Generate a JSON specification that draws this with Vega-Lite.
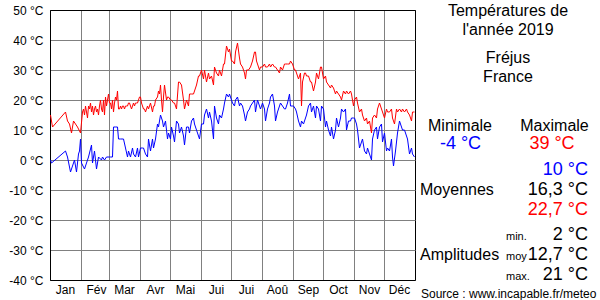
{
  "$schema": "https://vega.github.io/schema/vega-lite/v6.json",
  "autosize": "none",
  "width": 365,
  "height": 270,
  "padding": {"left": 50, "top": 10, "right": 185, "bottom": 20},
  "background": "white",
  "config": {"font": "Liberation Sans", "view": {"stroke": "black", "strokeWidth": 1}},
  "datasets": {
    "tmax": [
      {"jour":1,"t":15},{"jour":3,"t":11},{"jour":16,"t":16},{"jour":18,"t":13},{"jour":20,"t":12},{"jour":22,"t":9},{"jour":24,"t":13},{"jour":26,"t":12},{"jour":28,"t":11},{"jour":31,"t":9},
      {"jour":33,"t":16},{"jour":34,"t":17},{"jour":35,"t":15},{"jour":36,"t":18},{"jour":37,"t":16},{"jour":38,"t":14},{"jour":39,"t":18},{"jour":40,"t":17},{"jour":41,"t":19},{"jour":42,"t":16},
      {"jour":43,"t":18},{"jour":44,"t":15},{"jour":45,"t":17},{"jour":46,"t":18},{"jour":47,"t":16},{"jour":48,"t":17},{"jour":49,"t":15},{"jour":50,"t":18},{"jour":51,"t":20},{"jour":52,"t":17},
      {"jour":53,"t":16},{"jour":54,"t":20},{"jour":55,"t":15},{"jour":56,"t":21},{"jour":57,"t":18},{"jour":58,"t":20},{"jour":59,"t":22},{"jour":60,"t":19},{"jour":61,"t":19},{"jour":62,"t":17},
      {"jour":63,"t":20},{"jour":64,"t":16},{"jour":65,"t":19},{"jour":66,"t":21},{"jour":67,"t":20},{"jour":68,"t":23},{"jour":69,"t":17},{"jour":70,"t":17},{"jour":71,"t":18},{"jour":72,"t":17},
      {"jour":73,"t":18},{"jour":74,"t":18},{"jour":75,"t":17},{"jour":76,"t":18},{"jour":77,"t":18},{"jour":78,"t":18},{"jour":79,"t":19},{"jour":80,"t":19},{"jour":81,"t":18},{"jour":82,"t":17},
      {"jour":83,"t":18},{"jour":84,"t":19},{"jour":85,"t":18},{"jour":86,"t":19},{"jour":87,"t":19},{"jour":88,"t":19},{"jour":89,"t":20},{"jour":90,"t":21},{"jour":91,"t":21},{"jour":92,"t":19},
      {"jour":93,"t":18},{"jour":94,"t":17},{"jour":95,"t":17},{"jour":96,"t":16},{"jour":98,"t":18},{"jour":99,"t":17},{"jour":101,"t":19},{"jour":103,"t":16},{"jour":104,"t":18},{"jour":105,"t":18},
      {"jour":106,"t":20},{"jour":108,"t":21},{"jour":109,"t":23},{"jour":110,"t":22},{"jour":111,"t":25},{"jour":112,"t":20},{"jour":113,"t":16},{"jour":114,"t":21},{"jour":115,"t":25},{"jour":117,"t":20},
      {"jour":118,"t":21},{"jour":119,"t":21},{"jour":121,"t":20},{"jour":122,"t":20},{"jour":124,"t":19},{"jour":125,"t":19},{"jour":127,"t":17},{"jour":129,"t":26},{"jour":130,"t":26},{"jour":132,"t":25},
      {"jour":134,"t":20},{"jour":135,"t":17},{"jour":137,"t":20},{"jour":139,"t":18},{"jour":140,"t":22},{"jour":142,"t":22},{"jour":144,"t":22},{"jour":145,"t":23},{"jour":147,"t":25},{"jour":149,"t":28},
      {"jour":150,"t":28},{"jour":152,"t":30},{"jour":154,"t":27},{"jour":155,"t":30},{"jour":157,"t":26},{"jour":159,"t":29},{"jour":160,"t":27},{"jour":162,"t":28},{"jour":164,"t":25},{"jour":165,"t":31},
      {"jour":167,"t":29},{"jour":169,"t":28},{"jour":170,"t":30},{"jour":172,"t":28},{"jour":174,"t":32},{"jour":175,"t":32},{"jour":177,"t":38},{"jour":179,"t":36},{"jour":180,"t":37},{"jour":182,"t":33},
      {"jour":183,"t":33},{"jour":185,"t":32},{"jour":186,"t":36},{"jour":188,"t":39},{"jour":190,"t":34},{"jour":191,"t":32},{"jour":193,"t":31},{"jour":195,"t":29},{"jour":196,"t":27},{"jour":197,"t":30},
      {"jour":199,"t":30},{"jour":201,"t":31},{"jour":203,"t":33},{"jour":205,"t":36},{"jour":206,"t":36},{"jour":207,"t":33},{"jour":208,"t":32},{"jour":210,"t":30},{"jour":211,"t":31},{"jour":213,"t":31},
      {"jour":215,"t":32},{"jour":216,"t":31},{"jour":218,"t":31},{"jour":220,"t":32},{"jour":221,"t":31},{"jour":223,"t":32},{"jour":225,"t":31},{"jour":226,"t":31},{"jour":228,"t":30},{"jour":230,"t":29},
      {"jour":231,"t":31},{"jour":233,"t":30},{"jour":235,"t":32},{"jour":236,"t":32},{"jour":238,"t":32},{"jour":240,"t":32},{"jour":241,"t":33},{"jour":243,"t":32},{"jour":244,"t":31},{"jour":245,"t":30},
      {"jour":246,"t":30},{"jour":247,"t":29},{"jour":249,"t":27},{"jour":251,"t":29},{"jour":252,"t":18},{"jour":253,"t":26},{"jour":255,"t":29},{"jour":256,"t":29},{"jour":257,"t":28},{"jour":259,"t":28},
      {"jour":261,"t":26},{"jour":262,"t":26},{"jour":264,"t":23},{"jour":266,"t":26},{"jour":267,"t":29},{"jour":269,"t":27},{"jour":271,"t":31},{"jour":272,"t":31},{"jour":274,"t":27},{"jour":276,"t":28},
      {"jour":277,"t":26},{"jour":279,"t":25},{"jour":281,"t":24},{"jour":282,"t":25},{"jour":284,"t":24},{"jour":286,"t":22},{"jour":287,"t":23},{"jour":289,"t":22},{"jour":291,"t":21},{"jour":292,"t":20},
      {"jour":294,"t":23},{"jour":296,"t":22},{"jour":297,"t":23},{"jour":299,"t":22},{"jour":301,"t":23},{"jour":302,"t":22},{"jour":304,"t":18},{"jour":305,"t":20},{"jour":307,"t":21},{"jour":308,"t":19},
      {"jour":310,"t":16},{"jour":312,"t":17},{"jour":313,"t":15},{"jour":315,"t":13},{"jour":317,"t":14},{"jour":318,"t":12},{"jour":320,"t":13},{"jour":322,"t":9},{"jour":323,"t":14},{"jour":325,"t":15},
      {"jour":327,"t":14},{"jour":328,"t":17},{"jour":330,"t":19},{"jour":332,"t":17},{"jour":333,"t":16},{"jour":335,"t":14},{"jour":337,"t":17},{"jour":338,"t":16},{"jour":340,"t":16},{"jour":342,"t":17},
      {"jour":343,"t":14},{"jour":345,"t":12},{"jour":347,"t":17},{"jour":348,"t":16},{"jour":350,"t":17},{"jour":352,"t":16},{"jour":353,"t":17},{"jour":355,"t":16},{"jour":357,"t":17},{"jour":358,"t":16},
      {"jour":360,"t":15},{"jour":362,"t":13},{"jour":363,"t":16},{"jour":365,"t":16}
    ],
    "tmin": [
      {"jour":1,"t":0},{"jour":2,"t":-1},{"jour":16,"t":3},{"jour":18,"t":1},{"jour":21,"t":-4},{"jour":23,"t":-2},{"jour":25,"t":0},{"jour":27,"t":-4},{"jour":29,"t":2},{"jour":30,"t":3},
      {"jour":31,"t":7},{"jour":32,"t":-1},{"jour":35,"t":-3},{"jour":37,"t":-1},{"jour":39,"t":1},{"jour":42,"t":5},{"jour":43,"t":-1},{"jour":45,"t":3},{"jour":47,"t":-3},{"jour":49,"t":1},
      {"jour":52,"t":0},{"jour":53,"t":1},{"jour":55,"t":0},{"jour":57,"t":1},{"jour":60,"t":1},{"jour":61,"t":1},{"jour":63,"t":1},{"jour":64,"t":11},{"jour":66,"t":11},{"jour":68,"t":11},
      {"jour":69,"t":7},{"jour":71,"t":7},{"jour":74,"t":7},{"jour":76,"t":4},{"jour":78,"t":1},{"jour":79,"t":3},{"jour":81,"t":1},{"jour":83,"t":4},{"jour":84,"t":2},{"jour":86,"t":1},
      {"jour":88,"t":4},{"jour":89,"t":1},{"jour":91,"t":4},{"jour":93,"t":4},{"jour":94,"t":4},{"jour":96,"t":2},{"jour":98,"t":1},{"jour":99,"t":7},{"jour":101,"t":3},{"jour":103,"t":7},
      {"jour":104,"t":4},{"jour":106,"t":7},{"jour":108,"t":12},{"jour":109,"t":11},{"jour":111,"t":15},{"jour":113,"t":13},{"jour":114,"t":11},{"jour":116,"t":13},{"jour":118,"t":7},{"jour":119,"t":9},
      {"jour":121,"t":7},{"jour":122,"t":11},{"jour":124,"t":8},{"jour":125,"t":6},{"jour":127,"t":13},{"jour":129,"t":12},{"jour":130,"t":9},{"jour":132,"t":11},{"jour":134,"t":8},{"jour":135,"t":5},
      {"jour":137,"t":11},{"jour":139,"t":11},{"jour":140,"t":9},{"jour":142,"t":13},{"jour":144,"t":14},{"jour":145,"t":12},{"jour":147,"t":10},{"jour":149,"t":8},{"jour":150,"t":7},{"jour":152,"t":12},
      {"jour":154,"t":12},{"jour":155,"t":15},{"jour":157,"t":17},{"jour":159,"t":14},{"jour":160,"t":16},{"jour":162,"t":13},{"jour":164,"t":7},{"jour":165,"t":18},{"jour":167,"t":14},{"jour":169,"t":12},
      {"jour":170,"t":15},{"jour":172,"t":14},{"jour":174,"t":17},{"jour":175,"t":19},{"jour":177,"t":22},{"jour":179,"t":21},{"jour":180,"t":22},{"jour":182,"t":20},{"jour":183,"t":19},{"jour":185,"t":18},
      {"jour":186,"t":20},{"jour":188,"t":21},{"jour":190,"t":18},{"jour":191,"t":19},{"jour":193,"t":18},{"jour":195,"t":15},{"jour":196,"t":13},{"jour":198,"t":16},{"jour":200,"t":17},{"jour":201,"t":18},
      {"jour":203,"t":19},{"jour":205,"t":20},{"jour":206,"t":16},{"jour":208,"t":20},{"jour":210,"t":18},{"jour":211,"t":17},{"jour":213,"t":19},{"jour":215,"t":17},{"jour":216,"t":13},{"jour":218,"t":17},
      {"jour":220,"t":19},{"jour":221,"t":21},{"jour":223,"t":22},{"jour":225,"t":18},{"jour":226,"t":13},{"jour":228,"t":16},{"jour":230,"t":18},{"jour":231,"t":19},{"jour":233,"t":18},{"jour":235,"t":17},
      {"jour":236,"t":17},{"jour":238,"t":19},{"jour":240,"t":22},{"jour":241,"t":18},{"jour":243,"t":18},{"jour":244,"t":18},{"jour":246,"t":17},{"jour":247,"t":16},{"jour":249,"t":13},{"jour":251,"t":11},
      {"jour":252,"t":13},{"jour":254,"t":12},{"jour":256,"t":14},{"jour":257,"t":15},{"jour":259,"t":18},{"jour":261,"t":19},{"jour":262,"t":16},{"jour":264,"t":18},{"jour":266,"t":14},{"jour":267,"t":18},
      {"jour":269,"t":17},{"jour":271,"t":13},{"jour":272,"t":18},{"jour":274,"t":17},{"jour":276,"t":11},{"jour":277,"t":13},{"jour":279,"t":10},{"jour":281,"t":8},{"jour":282,"t":11},{"jour":284,"t":7},
      {"jour":286,"t":10},{"jour":287,"t":14},{"jour":289,"t":11},{"jour":291,"t":14},{"jour":292,"t":17},{"jour":294,"t":16},{"jour":296,"t":17},{"jour":297,"t":10},{"jour":299,"t":13},{"jour":301,"t":13},
      {"jour":302,"t":14},{"jour":304,"t":14},{"jour":305,"t":14},{"jour":307,"t":12},{"jour":308,"t":10},{"jour":310,"t":4},{"jour":312,"t":6},{"jour":313,"t":7},{"jour":315,"t":3},{"jour":317,"t":2},
      {"jour":318,"t":4},{"jour":320,"t":2},{"jour":322,"t":0},{"jour":323,"t":7},{"jour":325,"t":10},{"jour":327,"t":11},{"jour":328,"t":7},{"jour":330,"t":11},{"jour":332,"t":12},{"jour":333,"t":6},
      {"jour":335,"t":9},{"jour":337,"t":3},{"jour":338,"t":4},{"jour":340,"t":3},{"jour":342,"t":7},{"jour":343,"t":1},{"jour":344,"t":-2},{"jour":346,"t":3},{"jour":348,"t":9},{"jour":349,"t":11},
      {"jour":350,"t":13},{"jour":352,"t":11},{"jour":353,"t":10},{"jour":355,"t":10},{"jour":357,"t":8},{"jour":358,"t":7},{"jour":360,"t":2},{"jour":362,"t":4},{"jour":363,"t":2},{"jour":365,"t":1}
    ],
    "textes": [
      {"texte":"Températures de","role":"titre","serie":"aucune","col":9.3,"ligne":0.28},
      {"texte":"l'année 2019","role":"titre","serie":"aucune","col":9.3,"ligne":1.25},
      {"texte":"Fréjus","role":"titre","serie":"aucune","col":9.3,"ligne":2.63},
      {"texte":"France","role":"titre","serie":"aucune","col":9.3,"ligne":3.58},
      {"texte":"Minimale","role":"titre","serie":"aucune","col":4.5,"ligne":6.03},
      {"texte":"Maximale","role":"titre","serie":"aucune","col":13.95,"ligne":6.03},
      {"texte":"-4 °C","role":"extreme","serie":"min","col":4.55,"ligne":6.97},
      {"texte":"39 °C","role":"extreme","serie":"max","col":13.7,"ligne":6.97},
      {"texte":"10 °C","role":"valeur","serie":"min","col":17.3,"ligne":8.25},
      {"texte":"Moyennes","role":"libelle","serie":"aucune","col":0.5,"ligne":9.25},
      {"texte":"16,3 °C","role":"valeur","serie":"aucune","col":17.3,"ligne":9.25},
      {"texte":"22,7 °C","role":"valeur","serie":"max","col":17.3,"ligne":10.25},
      {"texte":"min.","role":"petit","serie":"aucune","col":9.1,"ligne":11.52},
      {"texte":"2 °C","role":"valeur","serie":"aucune","col":17.3,"ligne":11.5},
      {"texte":"Amplitudes","role":"libelle","serie":"aucune","col":0.5,"ligne":12.5},
      {"texte":"moy","role":"petit","serie":"aucune","col":9.1,"ligne":12.5},
      {"texte":"12,7 °C","role":"valeur","serie":"aucune","col":17.3,"ligne":12.5},
      {"texte":"max.","role":"petit","serie":"aucune","col":9.1,"ligne":13.52},
      {"texte":"21 °C","role":"valeur","serie":"aucune","col":17.3,"ligne":13.5},
      {"texte":"Source : www.incapable.fr/meteo","role":"source","serie":"aucune","col":0.6,"ligne":14.4}
    ]
  },
  "layer": [
    {
      "encoding": {
        "x": {
          "field": "jour", "type": "quantitative",
          "scale": {"domain": [0.5, 365.5], "nice": false, "zero": false},
          "axis": {
            "title": null,
            "values": [0.5, 31.5, 59.5, 90.5, 120.5, 151.5, 181.5, 212.5, 243.5, 273.5, 304.5, 334.5],
            "labelExpr": "datum.value < 31 ? 'Jan' : datum.value < 59 ? 'Fév' : datum.value < 90 ? 'Mar' : datum.value < 120 ? 'Avr' : datum.value < 151 ? 'Mai' : datum.value < 181 ? 'Jui' : datum.value < 212 ? 'Jui' : datum.value < 243 ? 'Aoû' : datum.value < 273 ? 'Sep' : datum.value < 304 ? 'Oct' : datum.value < 334 ? 'Nov' : 'Déc'",
            "labelOffset": 15,
            "labelFlush": false,
            "labelOverlap": false,
            "labelFontSize": 12,
            "labelColor": "#000000",
            "labelPadding": 4,
            "ticks": false,
            "grid": true,
            "gridColor": "#808080",
            "gridWidth": 1,
            "domainColor": "#000000",
            "domainWidth": 1
          }
        },
        "y": {
          "field": "t", "type": "quantitative",
          "scale": {"domain": [-40, 50], "nice": false, "zero": false},
          "axis": {
            "title": null,
            "values": [-40, -30, -20, -10, 0, 10, 20, 30, 40, 50],
            "labelExpr": "datum.value + ' °C'",
            "labelFlush": false,
            "labelOverlap": false,
            "labelFontSize": 12,
            "labelColor": "#000000",
            "labelPadding": 7,
            "ticks": false,
            "grid": true,
            "gridColor": {"condition": {"test": "datum.value == 50", "value": "#000000"}, "value": "#808080"},
            "gridWidth": 1,
            "domainColor": "#000000",
            "domainWidth": 1
          }
        }
      },
      "layer": [
        {"data": {"name": "tmax"}, "mark": {"type": "line", "color": "#ff0000", "strokeWidth": 1}},
        {"data": {"name": "tmin"}, "mark": {"type": "line", "color": "#0000ff", "strokeWidth": 1}}
      ]
    },
    {
      "data": {"name": "textes"},
      "encoding": {
        "x": {"field": "col", "type": "quantitative", "scale": {"domain": [0, 18.5], "range": [365, 550], "nice": false, "zero": false}, "axis": null},
        "y": {"field": "ligne", "type": "quantitative", "scale": {"domain": [0, 14.5], "range": [0, 290], "nice": false, "zero": false}, "axis": null},
        "color": {"field": "serie", "type": "nominal", "scale": {"domain": ["min", "max", "aucune"], "range": ["#0000ff", "#ff0000", "#000000"]}, "legend": null},
        "text": {"field": "texte", "type": "nominal"}
      },
      "layer": [
        {"transform": [{"filter": "datum.role == 'titre'"}], "mark": {"type": "text", "align": "center", "baseline": "alphabetic", "fontSize": 16}},
        {"transform": [{"filter": "datum.role == 'extreme'"}], "mark": {"type": "text", "align": "center", "baseline": "alphabetic", "fontSize": 18}},
        {"transform": [{"filter": "datum.role == 'valeur'"}], "mark": {"type": "text", "align": "right", "baseline": "alphabetic", "fontSize": 18}},
        {"transform": [{"filter": "datum.role == 'libelle'"}], "mark": {"type": "text", "align": "left", "baseline": "alphabetic", "fontSize": 16}},
        {"transform": [{"filter": "datum.role == 'petit'"}], "mark": {"type": "text", "align": "left", "baseline": "alphabetic", "fontSize": 11}},
        {"transform": [{"filter": "datum.role == 'source'"}], "mark": {"type": "text", "align": "left", "baseline": "alphabetic", "fontSize": 12}}
      ]
    }
  ],
  "resolve": {"scale": {"x": "independent", "y": "independent"}}
}
